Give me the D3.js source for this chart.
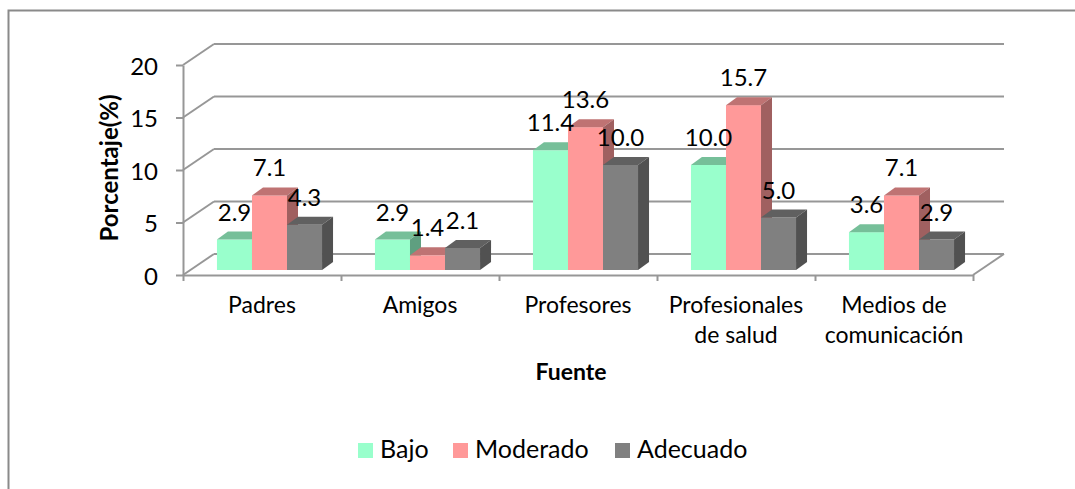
<!DOCTYPE html>
<html>
<head>
<meta charset="utf-8">
<script src="https://cdn.jsdelivr.net/npm/d3@7"></script>
<style>
  body { margin: 0; background: #fff; }
  svg text { font-family: Lato, "Liberation Sans", sans-serif; fill: #000; }
</style>
</head>
<body>
<div class="chart"></div>
<script>
// data
const categories = ["Padres", "Amigos", "Profesores", "Profesionales\nde salud", "Medios de\ncomunicación"];
const series = ["Bajo", "Moderado", "Adecuado"];
const bajo = [2.9, 2.9, 11.4, 10.0, 3.6];
const moderado = [7.1, 1.4, 13.6, 15.7, 7.1];
const adecuado = [4.3, 2.1, 10.0, 5.0, 2.9];
const yTicks = [0, 5, 10, 15, 20];

const values = [bajo, moderado, adecuado];
const front = ["#99FFCC", "#FF9999", "#808080"];
const top_ = ["#76BF99", "#BF7373", "#606060"];
const side = ["#5F9F80", "#A06060", "#515151"];

const W = 1075, H = 489;
const x0 = 183, x1 = 973, yBase = 275;
// depth of the box, and where the bars sit inside it
const dX = 31, dY = -21;
const barOff = [7.5, -5];
const barD = [11, -8];

const svg = d3.select(".chart").append("svg")
  .attr("width", W).attr("height", H);

// outer frame
svg.append("path")
  .attr("d", `M8.5,${H + 5} V10.5 H${W + 5}`)
  .attr("fill", "none").attr("stroke", "#8a8a8a").attr("stroke-width", 2);

const yScale = d3.scaleLinear().domain([0, 20]).range([yBase, 65]);
const xScale = d3.scaleBand().domain(categories).range([x0, x1])
  .paddingInner(0.335).paddingOuter(0.1675);
const xSub = d3.scaleBand().domain(series).range([0, xScale.bandwidth()]);
const xEdge = d3.scaleLinear().domain([0, categories.length]).range([x0, x1]);

const grid = "#979797";

// back wall grid + side wall diagonals
const g = svg.append("g");
yTicks.forEach(t => {
  const y = yScale(t);
  g.append("line").attr("x1", x0).attr("y1", y).attr("x2", x0 + dX).attr("y2", y + dY)
    .attr("stroke", grid).attr("stroke-width", 2);
  g.append("line").attr("x1", x0 + dX).attr("y1", y + dY).attr("x2", x1 + dX).attr("y2", y + dY)
    .attr("stroke", grid).attr("stroke-width", 2);
});
// floor front-right edge
g.append("line").attr("x1", x1).attr("y1", yBase).attr("x2", x1 + dX).attr("y2", yBase + dY)
  .attr("stroke", grid).attr("stroke-width", 2);

// y axis
const yAxis = d3.axisLeft(yScale).tickValues(yTicks).tickSize(7).tickSizeOuter(0).tickPadding(18);
const ya = svg.append("g").attr("transform", `translate(${x0},0)`).call(yAxis);
ya.select(".domain").attr("stroke", grid).attr("stroke-width", 2);
ya.selectAll(".tick line").attr("stroke", grid).attr("stroke-width", 2);
ya.selectAll(".tick text").style("font-size", "24px").attr("dy", "0.38em");

// x axis (ticks at the category edges)
const xAxis = d3.axisBottom(xEdge).tickValues(d3.range(categories.length + 1))
  .tickSize(6).tickSizeOuter(0).tickFormat("");
const xa = svg.append("g").attr("transform", `translate(0,${yBase})`).call(xAxis);
xa.select(".domain").attr("stroke", grid).attr("stroke-width", 2);
xa.selectAll(".tick line").attr("stroke", grid).attr("stroke-width", 2);

// bars
const bars = svg.append("g");
categories.forEach((c, i) => {
  series.forEach((s, j) => {
    const v = values[j][i];
    const x = xScale(c) + xSub(s) + barOff[0];
    const w = xSub.bandwidth();
    const yt = yScale(v) + barOff[1];
    const yb = yScale(0) + barOff[1];
    bars.append("rect").attr("x", x).attr("y", yt).attr("width", w).attr("height", yb - yt)
      .attr("fill", front[j]);
    bars.append("path")
      .attr("d", `M${x},${yt} L${x + barD[0]},${yt + barD[1]} L${x + w + barD[0]},${yt + barD[1]} L${x + w},${yt} Z`)
      .attr("fill", top_[j]);
    bars.append("path")
      .attr("d", `M${x + w},${yt} L${x + w + barD[0]},${yt + barD[1]} L${x + w + barD[0]},${yb + barD[1]} L${x + w},${yb} Z`)
      .attr("fill", side[j]);
  });
});

// value labels
categories.forEach((c, i) => {
  series.forEach((s, j) => {
    const v = values[j][i];
    svg.append("text")
      .attr("x", xScale(c) + xSub(s) + barOff[0] + xSub.bandwidth() / 2)
      .attr("y", yScale(v) + barOff[1] - 19)
      .attr("text-anchor", "middle")
      .style("font-size", "24px")
      .text(d3.format(".1f")(v));
  });
});

// category labels
categories.forEach(c => {
  const t = svg.append("text")
    .attr("text-anchor", "middle")
    .attr("x", xScale(c) + xScale.bandwidth() / 2)
    .attr("y", 313)
    .style("font-size", "23px");
  c.split("\n").forEach((line, k) => {
    t.append("tspan").attr("x", xScale(c) + xScale.bandwidth() / 2)
      .attr("dy", k === 0 ? 0 : 30).text(line);
  });
});

// axis titles
svg.append("text")
  .attr("x", 571).attr("y", 380)
  .attr("text-anchor", "middle")
  .style("font-size", "23px").style("font-weight", "bold")
  .text("Fuente");

svg.append("text")
  .attr("transform", "translate(108,168) rotate(-90)")
  .attr("text-anchor", "middle")
  .attr("dominant-baseline", "central")
  .style("font-size", "24px").style("font-weight", "bold")
  .text("Porcentaje(%)");

// legend
const legX = [358, 453, 615];
const legend = svg.selectAll(".legend")
  .data(series)
  .enter()
  .append("g")
  .attr("transform", (d, i) => `translate(${legX[i]},443)`);
legend.append("rect").attr("width", 15).attr("height", 15)
  .style("fill", (d, i) => front[i]);
legend.append("text").attr("x", 22).attr("y", 15)
  .style("font-size", "25px")
  .text(d => d);
</script>
</body>
</html>
